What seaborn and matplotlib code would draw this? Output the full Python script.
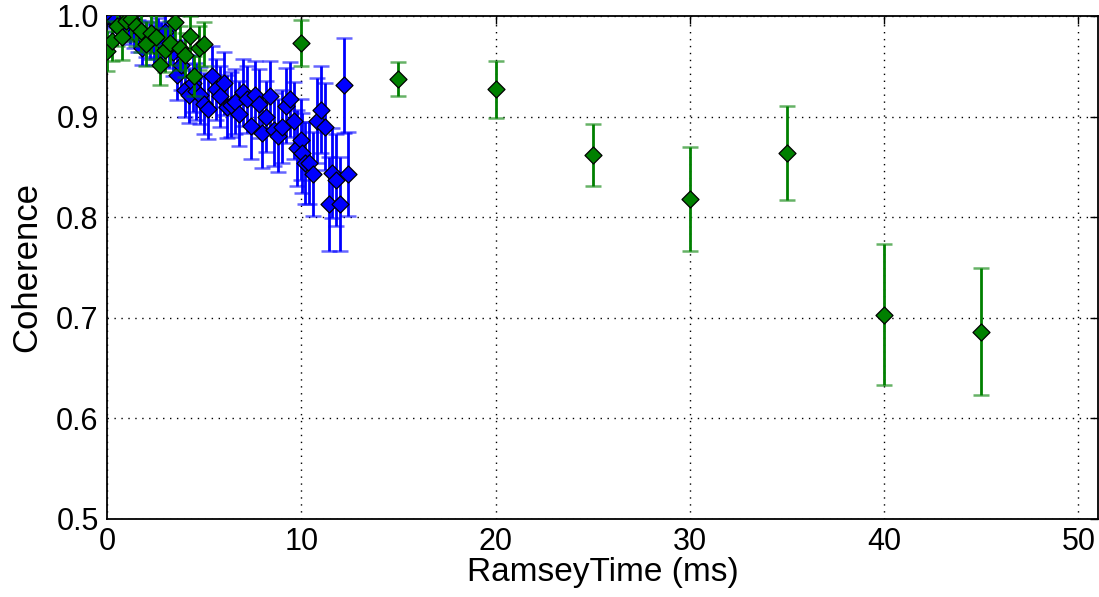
import numpy as np
import pandas as pd
import matplotlib
matplotlib.use("Agg")
import matplotlib.pyplot as plt
import seaborn as sns

# Blue series (dense scan)
blue_x = [0.0, 0.2, 0.4, 0.6, 0.8, 1.0, 1.2, 1.4, 1.6, 1.8, 2.0, 2.2, 2.4, 2.6, 2.8,
          3.0, 3.2, 3.4, 3.6, 3.8, 4.0, 4.2, 4.4, 4.6, 4.8, 5.0, 5.2, 5.4, 5.6, 5.8,
          6.0, 6.2, 6.4, 6.6, 6.8, 7.0, 7.2, 7.4, 7.6, 7.8, 8.0, 8.2, 8.4, 8.6, 8.8,
          9.0, 9.2, 9.4, 9.6, 9.8, 10.0, 10.05, 10.2, 10.4, 10.6, 10.8, 11.0, 11.2,
          11.4, 11.6, 11.8, 12.0, 12.2, 12.4]
blue_y = [1.000, 0.998, 0.996, 0.990, 0.992, 0.988, 0.986, 0.983, 0.980, 0.968,
          0.977, 0.975, 0.971, 0.978, 0.974, 0.984, 0.970, 0.964, 0.941, 0.951,
          0.926, 0.921, 0.933, 0.925, 0.921, 0.913, 0.908, 0.940, 0.927, 0.920,
          0.933, 0.910, 0.912, 0.915, 0.903, 0.924, 0.917, 0.891, 0.921, 0.913,
          0.884, 0.900, 0.920, 0.887, 0.881, 0.890, 0.911, 0.917, 0.896, 0.869,
          0.877, 0.864, 0.854, 0.854, 0.843, 0.896, 0.907, 0.890, 0.813, 0.844,
          0.837, 0.813, 0.931, 0.843]
blue_err = [0.010, 0.010, 0.012, 0.012, 0.013, 0.013, 0.014, 0.015, 0.016, 0.017,
            0.018, 0.018, 0.020, 0.020, 0.020, 0.022, 0.022, 0.024, 0.025, 0.025,
            0.026, 0.027, 0.028, 0.028, 0.028, 0.030, 0.030, 0.030, 0.030, 0.030,
            0.031, 0.031, 0.032, 0.032, 0.032, 0.033, 0.033, 0.033, 0.034, 0.034,
            0.035, 0.035, 0.035, 0.036, 0.036, 0.036, 0.037, 0.037, 0.038, 0.038,
            0.040, 0.040, 0.041, 0.041, 0.042, 0.042, 0.043, 0.043, 0.047, 0.045,
            0.046, 0.047, 0.047, 0.042]

# Green series (sparse scan)
green_x = [0.0, 0.25, 0.5, 0.75, 1.0, 1.25, 1.5, 1.75, 2.0, 2.25, 2.5, 2.75, 3.0,
           3.25, 3.5, 3.75, 4.0, 4.25, 4.5, 4.75, 5.0,
           10, 15, 20, 25, 30, 35, 40, 45]
green_y = [0.965, 0.975, 0.990, 0.979, 0.995, 0.997, 0.990, 0.985, 0.972, 0.983,
           0.979, 0.951, 0.966, 0.973, 0.994, 0.968, 0.961, 0.980, 0.940, 0.968,
           0.972,
           0.973, 0.937, 0.927, 0.862, 0.818, 0.864, 0.703, 0.686]
green_err = [0.020, 0.020, 0.020, 0.023, 0.020, 0.020, 0.020, 0.021, 0.022, 0.020,
             0.022, 0.020, 0.022, 0.022, 0.020, 0.022, 0.022, 0.020, 0.020, 0.022,
             0.022,
             0.023, 0.017, 0.028, 0.031, 0.052, 0.047, 0.070, 0.063]

x_ticks = [0, 10, 20, 30, 40, 50]
y_ticks = [0.5, 0.6, 0.7, 0.8, 0.9, 1.0]

sns.set_style("white")
plt.rcParams['font.family'] = ['Liberation Sans', 'DejaVu Sans']

fig = plt.figure(figsize=(10.99, 5.97), dpi=100)
ax = fig.add_axes([0.0974, 0.1307, 0.9016, 0.8425])

blue_df = pd.DataFrame({"t": blue_x, "c": blue_y})
green_df = pd.DataFrame({"t": green_x, "c": green_y})

def bars(x, y, e, col, z):
    eb = ax.errorbar(x, y, yerr=e, fmt='none', ecolor=col, elinewidth=2.0,
                     capsize=6, capthick=1.8, zorder=z)
    for cl in eb[1]:
        cl.set_alpha(0.6)
    return eb

bars(blue_x, blue_y, blue_err, '#0000ff', 2)
sns.scatterplot(data=blue_df, x="t", y="c", marker='D', s=75, color='#0000ff',
                edgecolor='black', linewidth=0.9, ax=ax, zorder=3)
bars(green_x, green_y, green_err, '#008000', 4)
sns.scatterplot(data=green_df, x="t", y="c", marker='D', s=75, color='#008000',
                edgecolor='black', linewidth=0.9, ax=ax, zorder=5)

ax.set_xlim(0, 51)
ax.set_ylim(0.5, 1.0)
ax.set_xticks(x_ticks)
ax.set_yticks(y_ticks)
ax.set_xticklabels([str(v) for v in x_ticks])
ax.set_yticklabels([f"{v:.1f}" for v in y_ticks])
ax.grid(True, color='black', linestyle=(0, (1, 4)), linewidth=1.0)
ax.tick_params(direction='in', length=6, width=1, top=True, right=True,
               labelsize=22, pad=6, color='black', labelcolor='black')
for s in ax.spines.values():
    s.set_linewidth(1.3)
    s.set_color('black')
ax.set_xlabel("RamseyTime (ms)", fontsize=24, color='black', labelpad=0)
ax.set_ylabel("Coherence", fontsize=25, color='black', labelpad=9)

fig.savefig("out.png", dpi=100)
